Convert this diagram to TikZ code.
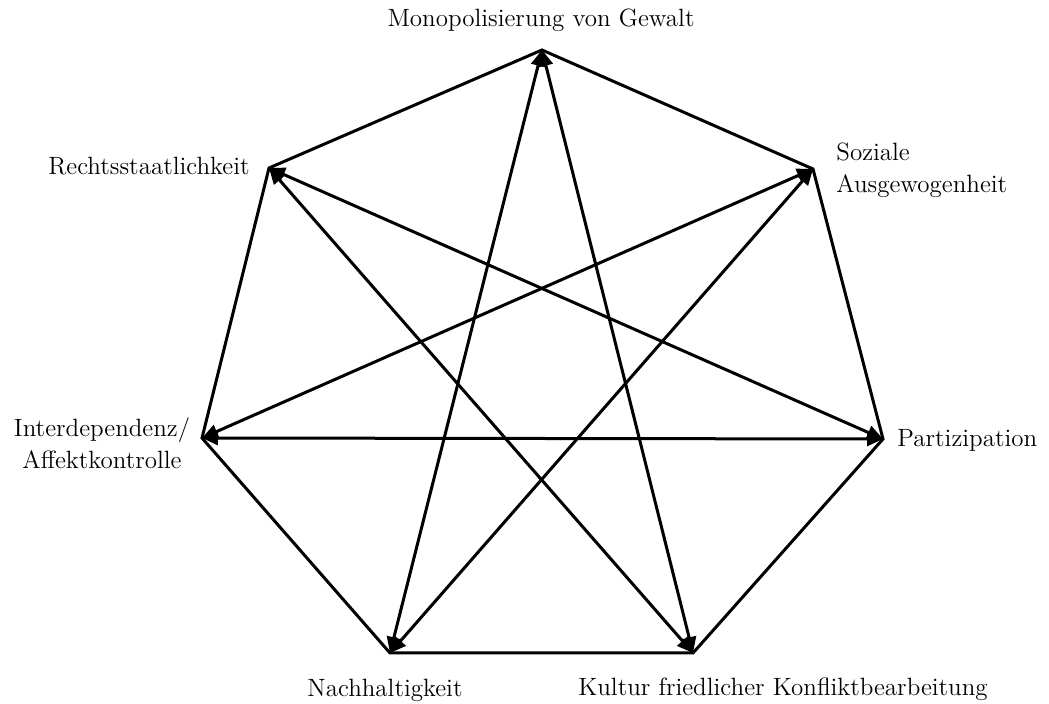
\documentclass[tikz,border=0pt]{standalone}
\usepackage{tikz}
\usetikzlibrary{arrows.meta}

\tikzset{
  rim/.style={line width=1.5pt, line join=miter},
  link/.style={line width=1.5pt, {Triangle[length=8pt,width=7pt]}-{Triangle[length=8pt,width=7pt]}},
  lbl/.style={font=\fontsize{12.5}{16}\selectfont, inner sep=0pt}
}

\begin{document}
\begin{tikzpicture}[x=0.5pt,y=-0.5pt]
  \useasboundingbox (0,0) rectangle (1049,704);

  \coordinate (M) at (542,50);
  \coordinate (S) at (813,169);
  \coordinate (P) at (883,439);
  \coordinate (K) at (693,653);
  \coordinate (N) at (390,653);
  \coordinate (I) at (202,438);
  \coordinate (R) at (269,168);

  \draw[rim] (M) -- (S) -- (P) -- (K) -- (N) -- (I) -- (R) -- cycle;

  \draw[link] (M) -- (N);
  \draw[link] (M) -- (K);
  \draw[link] (R) -- (P);
  \draw[link] (R) -- (K);
  \draw[link] (S) -- (I);
  \draw[link] (S) -- (N);
  \draw[link] (I) -- (P);

  \node[lbl, anchor=base] (tM) at (541,27) {Monopolisierung von Gewalt};
  \node[lbl, anchor=base east] (tR) at (250,175) {Rechtsstaatlichkeit};
  \node[lbl, anchor=west, align=left] (tS) at (836,170) {Soziale\\Ausgewogenheit};
  \node[lbl, align=center] (tI) at (102,443) {Interdependenz/\\Affektkontrolle};
  \node[lbl, anchor=base west] (tP) at (897,447) {Partizipation};
  \node[lbl, anchor=base] (tN) at (385,697) {Nachhaltigkeit};
  \node[lbl, anchor=base] (tK) at (783,696) {Kultur friedlicher Konfliktbearbeitung};
\end{tikzpicture}
\end{document}
